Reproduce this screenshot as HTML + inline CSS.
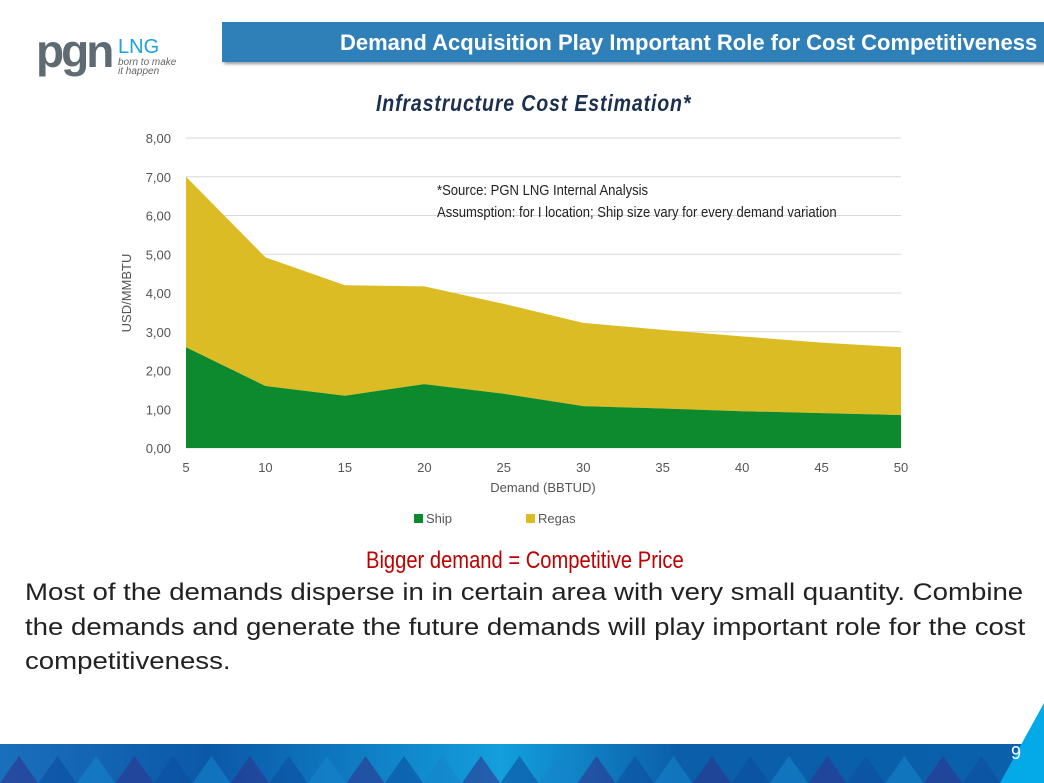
<!DOCTYPE html>
<html><head><meta charset="utf-8"><style>
body{margin:0;width:1044px;height:783px;overflow:hidden;background:#fff;font-family:"Liberation Sans",sans-serif;position:relative}
.abs{position:absolute}
</style></head><body>
<div class="abs" style="left:36px;top:30px;width:160px;height:50px">
 <span class="abs" style="left:0;top:-6px;font-size:46px;font-weight:bold;color:#5f6b73;letter-spacing:-3px">pgn</span>
 <span class="abs" style="left:82px;top:6px;font-size:20px;color:#1aa3dc">LNG</span>
 <span class="abs" style="left:82px;top:28px;font-size:10px;font-style:italic;color:#666;line-height:9px">born to make<br>it happen</span>
</div>
<div class="abs" style="left:222px;top:22px;width:822px;height:40px;background:#2f80b9;box-shadow:2px 2px 3px #999"></div>
<div class="abs" style="left:340px;top:30px;font-size:22px;font-weight:bold;color:#fff;white-space:nowrap">Demand Acquisition Play Important Role for Cost Competitiveness</div>
<div class="abs" style="left:376px;top:90px;font-size:23px;font-weight:bold;font-style:italic;color:#1b2f4f;transform:scaleX(0.85);transform-origin:left;white-space:nowrap;letter-spacing:1px">Infrastructure Cost Estimation*</div>
<svg class="abs" style="left:0;top:0" width="1044" height="783">
<g id="g"></g>
</svg>
<div class="abs" style="left:437px;top:180px;font-size:15px;color:#222;line-height:22px;transform:scaleX(0.87);transform-origin:left;white-space:nowrap">*Source: PGN LNG Internal Analysis<br>Assumsption: for I location; Ship size vary for every demand variation</div>
<div class="abs" style="left:366px;top:547px;font-size:24px;color:#c00000;transform:scaleX(0.84);transform-origin:left;white-space:nowrap">Bigger demand = Competitive Price</div>
<div class="abs" style="left:25px;top:576px;white-space:nowrap;font-size:24px;line-height:34.5px;color:#222;transform:scaleX(1.15);transform-origin:left top">Most of the demands disperse in in certain area with very small quantity. Combine<br>the demands and generate the future demands will play important role for the cost<br>competitiveness.</div>
<svg class="abs" style="left:0;top:744px" width="1044" height="39">
<defs><linearGradient id="fb" x1="0" x2="1"><stop offset="0" stop-color="#1a6fbd"/><stop offset="0.2" stop-color="#0b58a8"/><stop offset="0.48" stop-color="#139fdc"/><stop offset="0.65" stop-color="#0b5ea9"/><stop offset="1" stop-color="#0a60ab"/></linearGradient></defs>
<rect width="1044" height="39" fill="url(#fb)"/>
<g id="tri"></g>
</svg>
<svg class="abs" style="left:0;top:0" width="1044" height="783"><polygon points="1044,703 1044,783 1000,783" fill="#04a9e8"/></svg>
<div class="abs" style="left:1011px;top:743px;font-size:18px;color:#fff">9</div>
<script>
const categories=[5,10,15,20,25,30,35,40,45,50];
const ship=[2.6,1.6,1.35,1.65,1.4,1.08,1.02,0.95,0.9,0.85];
const regas=[4.4,3.32,2.85,2.52,2.32,2.15,2.03,1.93,1.82,1.75];
const yTicks=["0,00","1,00","2,00","3,00","4,00","5,00","6,00","7,00","8,00"];
const NS="http://www.w3.org/2000/svg";
const g=document.getElementById('g');
const X=v=>186+(v-5)*(901-186)/45;
const Y=v=>448-v*38.75;
function mk(t,a){const e=document.createElementNS(NS,t);for(const k in a)e.setAttribute(k,a[k]);g.appendChild(e);return e;}
yTicks.forEach((t,i)=>{
 const l=mk('line',{x1:186,x2:901,y1:Y(i),y2:Y(i),stroke:'#d9d9d9'});
 
 
 const tx=mk('text',{x:171,y:Y(i)+5,'text-anchor':'end','font-size':13,fill:'#555','font-family':'Liberation Sans'});
 tx.textContent=t;
 
 
});
const tot=categories.map((c,i)=>ship[i]+regas[i]);
let p='M'+categories.map((c,i)=>X(c)+','+Y(tot[i])).join(' L')+' L'+categories.slice().reverse().map((c,j)=>{const i=categories.length-1-j;return X(c)+','+Y(ship[i]);}).join(' L')+'Z';
const ra=mk('path',{d:p,fill:'#dcbc24'});


let s='M'+X(5)+','+Y(0)+' L'+categories.map((c,i)=>X(c)+','+Y(ship[i])).join(' L')+' L'+X(50)+','+Y(0)+'Z';
const sa=mk('path',{d:s,fill:'#0e8a2e'});


categories.forEach(c=>{
 const tx=mk('text',{x:X(c),y:472,'text-anchor':'middle','font-size':13,fill:'#555','font-family':'Liberation Sans'});
 tx.textContent=c;
 
 
});
const xt=mk('text',{x:543,y:492,'text-anchor':'middle','font-size':13,fill:'#555','font-family':'Liberation Sans'});
xt.textContent='Demand (BBTUD)';


const yt=mk('text',{x:0,y:0,transform:'translate(131,293) rotate(-90)','text-anchor':'middle','font-size':13,fill:'#555','font-family':'Liberation Sans'});
yt.textContent='USD/MMBTU';


[['Ship','#0e8a2e',414],['Regas','#dcbc24',526]].forEach(([n,c,x])=>{
 const r=mk('rect',{x:x,y:514,width:9,height:9,fill:c});
 
 
 const t=mk('text',{x:x+12,y:523,'font-size':13,fill:'#555','font-family':'Liberation Sans'});
 t.textContent=n;
 
 
});
const tri=document.getElementById('tri');
for(let i=0;i<27;i++){const x=i*38.5;const e=document.createElementNS(NS,'polygon');
 e.setAttribute('points',`${x},39 ${x+19},12 ${x+38},39`);e.setAttribute('fill',i%3==0?'#2d3590':(i%3==1?'#0b4fa0':'#1584cc'));e.setAttribute('opacity','0.6');tri.appendChild(e);}
</script>
</body></html>
